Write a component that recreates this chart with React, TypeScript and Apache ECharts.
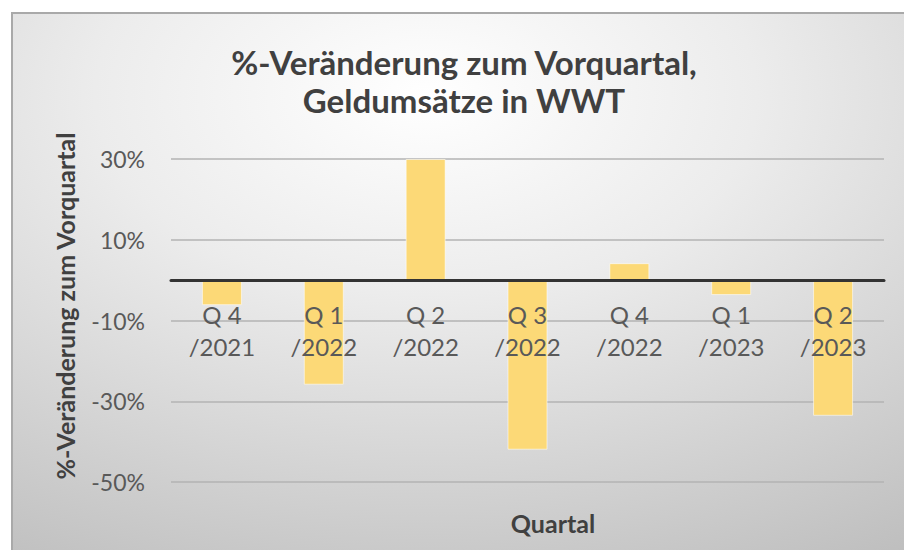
import React, { useEffect, useRef } from "react";
import * as echarts from "echarts";

const categories = ["Q 4\n/2021", "Q 1\n/2022", "Q 2\n/2022", "Q 3\n/2022", "Q 4\n/2022", "Q 1\n/2023", "Q 2\n/2023"];
const values = [-6.2, -25.9, 30, -42, 4.2, -3.7, -33.6];
const yMin = -50;
const yMax = 30;
const yInterval = 20;
const titleText = "%-Veränderung zum Vorquartal,\nGeldumsätze in WWT";
const yAxisName = "%-Veränderung zum Vorquartal";
const xAxisName = "Quartal";

export default function App() {
  const ref = useRef<HTMLDivElement>(null);
  useEffect(() => {
    if (!ref.current) return;
    const chart = echarts.init(ref.current, null, { renderer: "svg" });
    const font = "Lato, 'Noto Sans', sans-serif";
    const gridTop = 159;
    const gridBottom = 68;
    const plotHeight = 550 - gridTop - gridBottom;
    // shift the category axis (line + labels) up to the value 0
    const zeroOffset = -((0 - yMin) / (yMax - yMin)) * plotHeight;
    chart.setOption({
      animation: false,
      backgroundColor: "#ffffff",
      graphic: [
        {
          type: "rect",
          z: -10,
          shape: { x: 12, y: 13, width: 900, height: 545 },
          style: {
            fill: new echarts.graphic.RadialGradient(0.46, 0.15, 1.05, [
              { offset: 0, color: "#ffffff" },
              { offset: 0.35, color: "#ececec" },
              { offset: 1, color: "#bababa" },
            ]),
            stroke: "#a9a9a9",
            lineWidth: 2,
          },
        },
        {
          type: "text",
          z: 10,
          x: 464,
          y: 81,
          style: {
            text: titleText,
            fontFamily: font,
            fontWeight: "bold",
            fontSize: 33,
            lineHeight: 38,
            fill: "#404040",
            align: "center",
            verticalAlign: "middle",
          },
        },
        {
          type: "text",
          z: 10,
          x: 65,
          y: 306,
          rotation: Math.PI / 2,
          style: {
            text: yAxisName,
            fontFamily: font,
            fontWeight: "bold",
            fontSize: 25,
            fill: "#404040",
            align: "center",
            verticalAlign: "middle",
          },
        },
        {
          type: "text",
          z: 10,
          x: 553,
          y: 523,
          style: {
            text: xAxisName,
            fontFamily: font,
            fontWeight: "bold",
            fontSize: 25,
            fill: "#404040",
            align: "center",
            verticalAlign: "middle",
          },
        },
      ],
      grid: {
        left: 171,
        right: 20,
        top: gridTop,
        bottom: gridBottom,
        containLabel: false,
        outerBoundsMode: "none",
      },
      xAxis: {
        type: "category",
        data: categories,
        z: 5,
        offset: zeroOffset,
        axisLine: { onZero: false, lineStyle: { color: "#333333", width: 3 } },
        axisTick: { show: false },
        axisLabel: {
          color: "#595959",
          fontFamily: font,
          fontSize: 24,
          lineHeight: 32,
          margin: 18,
          interval: 0,
        },
        splitLine: { show: false },
      },
      yAxis: {
        type: "value",
        min: yMin,
        max: yMax,
        interval: yInterval,
        z: 0,
        axisLine: { show: false },
        axisTick: { show: false },
        axisLabel: {
          color: "#595959",
          fontFamily: font,
          fontSize: 23,
          margin: 26,
          formatter: (v: number) => `${v}%`,
        },
        splitLine: { lineStyle: { color: "#b3b3b3", width: 1.5 } },
      },
      series: [
        {
          type: "bar",
          data: values,
          barWidth: 40,
          itemStyle: {
            color: "#fcd977",
            borderColor: "rgba(255,255,255,0.55)",
            borderWidth: 1,
          },
        },
      ],
    });
    return () => chart.dispose();
  }, []);
  return (
    <div
      ref={ref}
      style={{ position: "fixed", left: 0, top: 0, width: 904, height: 550 }}
    />
  );
}
